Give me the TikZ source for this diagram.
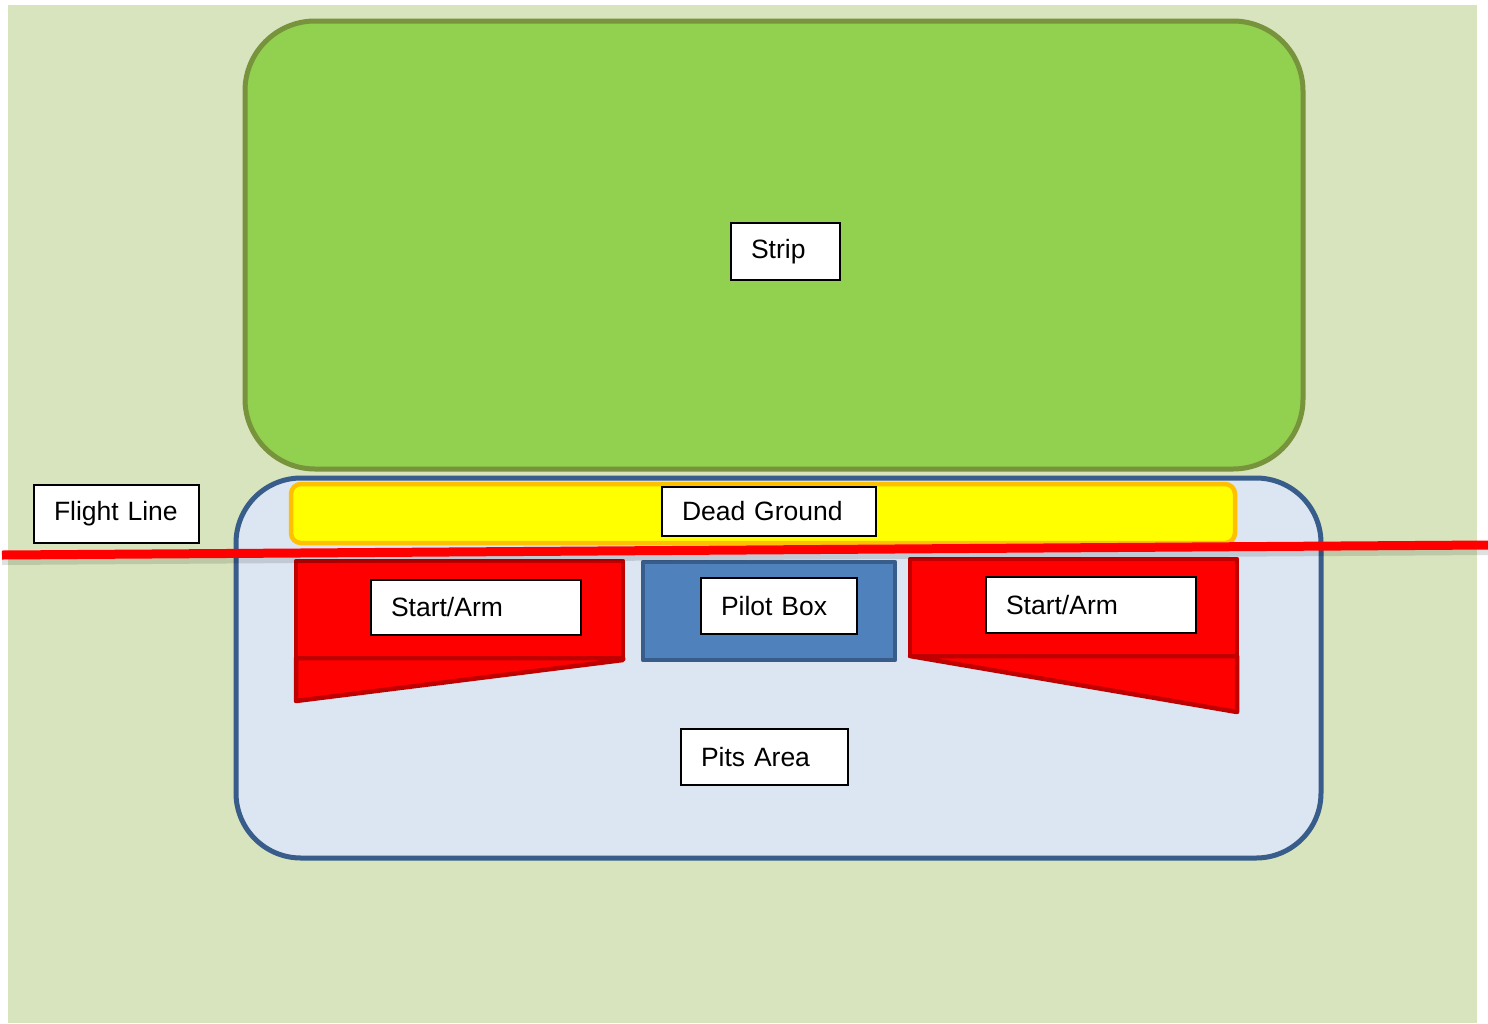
\documentclass[tikz,border=0pt]{standalone}
\usepackage{fontspec}
\setmainfont{Liberation Sans}
\definecolor{bgg}{RGB}{215,228,189}
\definecolor{stripfill}{RGB}{146,208,80}
\definecolor{stripline}{RGB}{119,147,60}
\definecolor{pitsfill}{RGB}{220,230,242}
\definecolor{pitsline}{RGB}{56,93,138}
\definecolor{deadline}{RGB}{255,192,0}
\definecolor{deadfill}{RGB}{255,255,0}
\definecolor{armline}{RGB}{192,0,0}
\definecolor{pilotfill}{RGB}{79,129,189}
\tikzset{
  lbl/.style={draw=black, line width=2pt, fill=white, anchor=north west,
    inner xsep=20pt, inner ysep=0pt, align=left,
    font=\fontsize{26.5}{30}\selectfont},
  armshape/.style={fill=red, draw=armline, line width=4.5pt, line join=round},
}
\newcommand{\lab}[6]{% name, x, y, w, h, text
  \node[lbl, text width=#4pt-40pt, minimum height=#5pt] (#1) at (#2,#3) {#6};}
\begin{document}
\begin{tikzpicture}[x=1pt,y=-1pt]
\useasboundingbox (0,0) rectangle (1488,1023);
\fill[bgg] (8,5) rectangle (1477,1023);
% strip
\draw[fill=stripfill, draw=stripline, line width=5pt, rounded corners=70pt]
  (245,21) rectangle (1303,469);
% pits area
\draw[fill=pitsfill, draw=pitsline, line width=5pt, rounded corners=65pt]
  (236,478) rectangle (1321,858);
% dead ground
\draw[fill=deadfill, draw=deadline, line width=4.5pt, rounded corners=10pt]
  (291,484) rectangle (1235,543);
% left start/arm
\draw[armshape] (296,658) -- (623,658) -- (623,660) -- (296,701) -- cycle;
\draw[armshape] (296,561) rectangle (623,658);
% right start/arm
\draw[armshape] (910,656) -- (1237,656) -- (1237,712) -- cycle;
\draw[armshape] (910,559) rectangle (1237,656);
% pilot box
\draw[fill=pilotfill, draw=pitsline, line width=4.5pt, line join=round]
  (643,562) rectangle (895,660);
% flight line
\coordinate (fl1) at (2,555);
\coordinate (fl2) at (1488,545);
\coordinate (fs1) at (2,561);
\coordinate (fs2) at (1488,551);
\draw[black, opacity=0.12, line width=8pt] (fs1) -- (fs2);
\draw[red, line width=9pt] (fl1) -- (fl2);
% labels
\lab{strip}{730}{222}{109}{57}{Strip}
\lab{flight}{33}{484}{165}{58}{Flight Line}
\lab{dead}{661}{486}{214}{49}{Dead Ground}
\lab{armL}{370}{579}{210}{55}{Start/Arm}
\lab{pilot}{700}{577}{156}{56}{Pilot Box}
\lab{armR}{985}{576}{210}{56}{Start/Arm}
\lab{pits}{680}{728}{167}{56}{Pits Area}
\end{tikzpicture}
\end{document}
